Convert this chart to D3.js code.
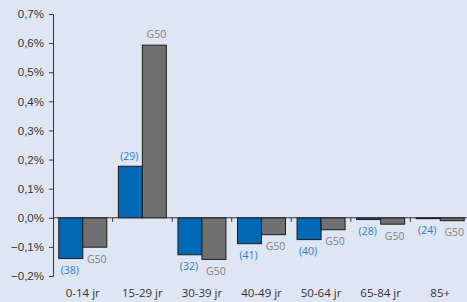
<!DOCTYPE html>
<html>
<head>
<meta charset="utf-8">
<script src="https://cdn.jsdelivr.net/npm/d3@7"></script>
<style>
  body { margin: 0; background: #dfe6f3; }
  svg { display: block; font-family: "Open Sans", "Noto Sans", sans-serif; }
</style>
</head>
<body>
<svg id="chart" width="467" height="302"></svg>
<script>
// age groups and values (percent change)
const categories = ['0-14 jr', '15-29 jr', '30-39 jr', '40-49 jr', '50-64 jr', '65-84 jr', '85+'];
const blueValues = [-0.14, 0.177, -0.127, -0.089, -0.075, -0.006, -0.003];
const grayValues = [-0.101, 0.593, -0.143, -0.058, -0.041, -0.022, -0.01];
const blueLabels = ['(38)', '(29)', '(32)', '(41)', '(40)', '(28)', '(24)'];
const grayLabel = 'G50';
const yTicks = [-0.2, -0.1, 0, 0.1, 0.2, 0.3, 0.4, 0.5, 0.6, 0.7];

const margin = {top: 14, right: -3, bottom: 26, left: 53};
const width = 467, height = 302;

const svg = d3.select('#chart');

const x = d3.scaleBand()
    .domain(categories)
    .range([margin.left, width - margin.right])
    .paddingInner(0.2)
    .paddingOuter(0.1);
// band covers both bars of a group
const x0 = d3.scaleBand().domain(categories).range([margin.left, width - margin.right]);
const barW = 24;

const y = d3.scaleLinear()
    .domain([-0.2, 0.7])
    .range([height - margin.bottom, margin.top]);

const fmt = d => d3.format('.1f')(d).replace('.', ',') + '%';

// y axis
const yAxis = svg.append('g')
    .attr('transform', `translate(${margin.left},0)`)
    .call(d3.axisLeft(y).tickValues(yTicks).tickFormat(fmt).tickSize(4).tickPadding(5));
yAxis.select('.domain').attr('stroke', '#333');
yAxis.selectAll('.tick line').attr('stroke', '#333');
yAxis.selectAll('.tick text').attr('fill', '#333').style('font-size', '11.5px');

// bars
const groups = svg.append('g').selectAll('g')
    .data(categories)
    .join('g');

groups.append('rect')
    .attr('x', (d) => x0(d) + x0.bandwidth() / 2 - barW)
    .attr('width', barW)
    .attr('y', (d, i) => Math.min(y(0), y(blueValues[i])))
    .attr('height', (d, i) => Math.abs(y(blueValues[i]) - y(0)))
    .attr('fill', '#0068b4')
    .attr('stroke', '#1a1a1a')
    .attr('stroke-width', 1);

groups.append('rect')
    .attr('x', (d) => x0(d) + x0.bandwidth() / 2)
    .attr('width', barW)
    .attr('y', (d, i) => Math.min(y(0), y(grayValues[i])))
    .attr('height', (d, i) => Math.abs(y(grayValues[i]) - y(0)))
    .attr('fill', '#707070')
    .attr('stroke', '#1a1a1a')
    .attr('stroke-width', 1);

// value labels
groups.append('text')
    .attr('x', (d) => x0(d) + x0.bandwidth() / 2 - barW / 2 - 1)
    .attr('y', (d, i) => blueValues[i] >= 0 ? y(blueValues[i]) - 10 : y(blueValues[i]) + 12)
    .attr('dy', '0.35em')
    .attr('text-anchor', 'middle')
    .attr('fill', '#1f7fc8')
    .style('font-size', '10.5px')
    .text((d, i) => blueLabels[i]);

groups.append('text')
    .attr('x', (d) => x0(d) + x0.bandwidth() / 2 + barW / 2 + 2)
    .attr('y', (d, i) => grayValues[i] >= 0 ? y(grayValues[i]) - 11 : y(grayValues[i]) + 12)
    .attr('dy', '0.35em')
    .attr('text-anchor', 'middle')
    .attr('fill', '#808080')
    .style('font-size', '10.5px')
    .text(grayLabel);

// x axis at zero
const xAxis = svg.append('g')
    .attr('transform', `translate(0,${y(0)})`);
xAxis.append('line')
    .attr('x1', margin.left).attr('x2', width)
    .attr('stroke', '#333');
xAxis.selectAll('.sep')
    .data(categories.slice(1))
    .join('line')
    .attr('class', 'sep')
    .attr('x1', d => x0(d)).attr('x2', d => x0(d))
    .attr('y1', 0).attr('y2', 4)
    .attr('stroke', '#333');

// category labels
svg.append('g').selectAll('text')
    .data(categories)
    .join('text')
    .attr('x', d => x0(d) + x0.bandwidth() / 2)
    .attr('y', 293)
    .attr('dy', '0.35em')
    .attr('text-anchor', 'middle')
    .attr('fill', '#333')
    .style('font-size', '11.5px')
    .text(d => d);
</script>
</body>
</html>
